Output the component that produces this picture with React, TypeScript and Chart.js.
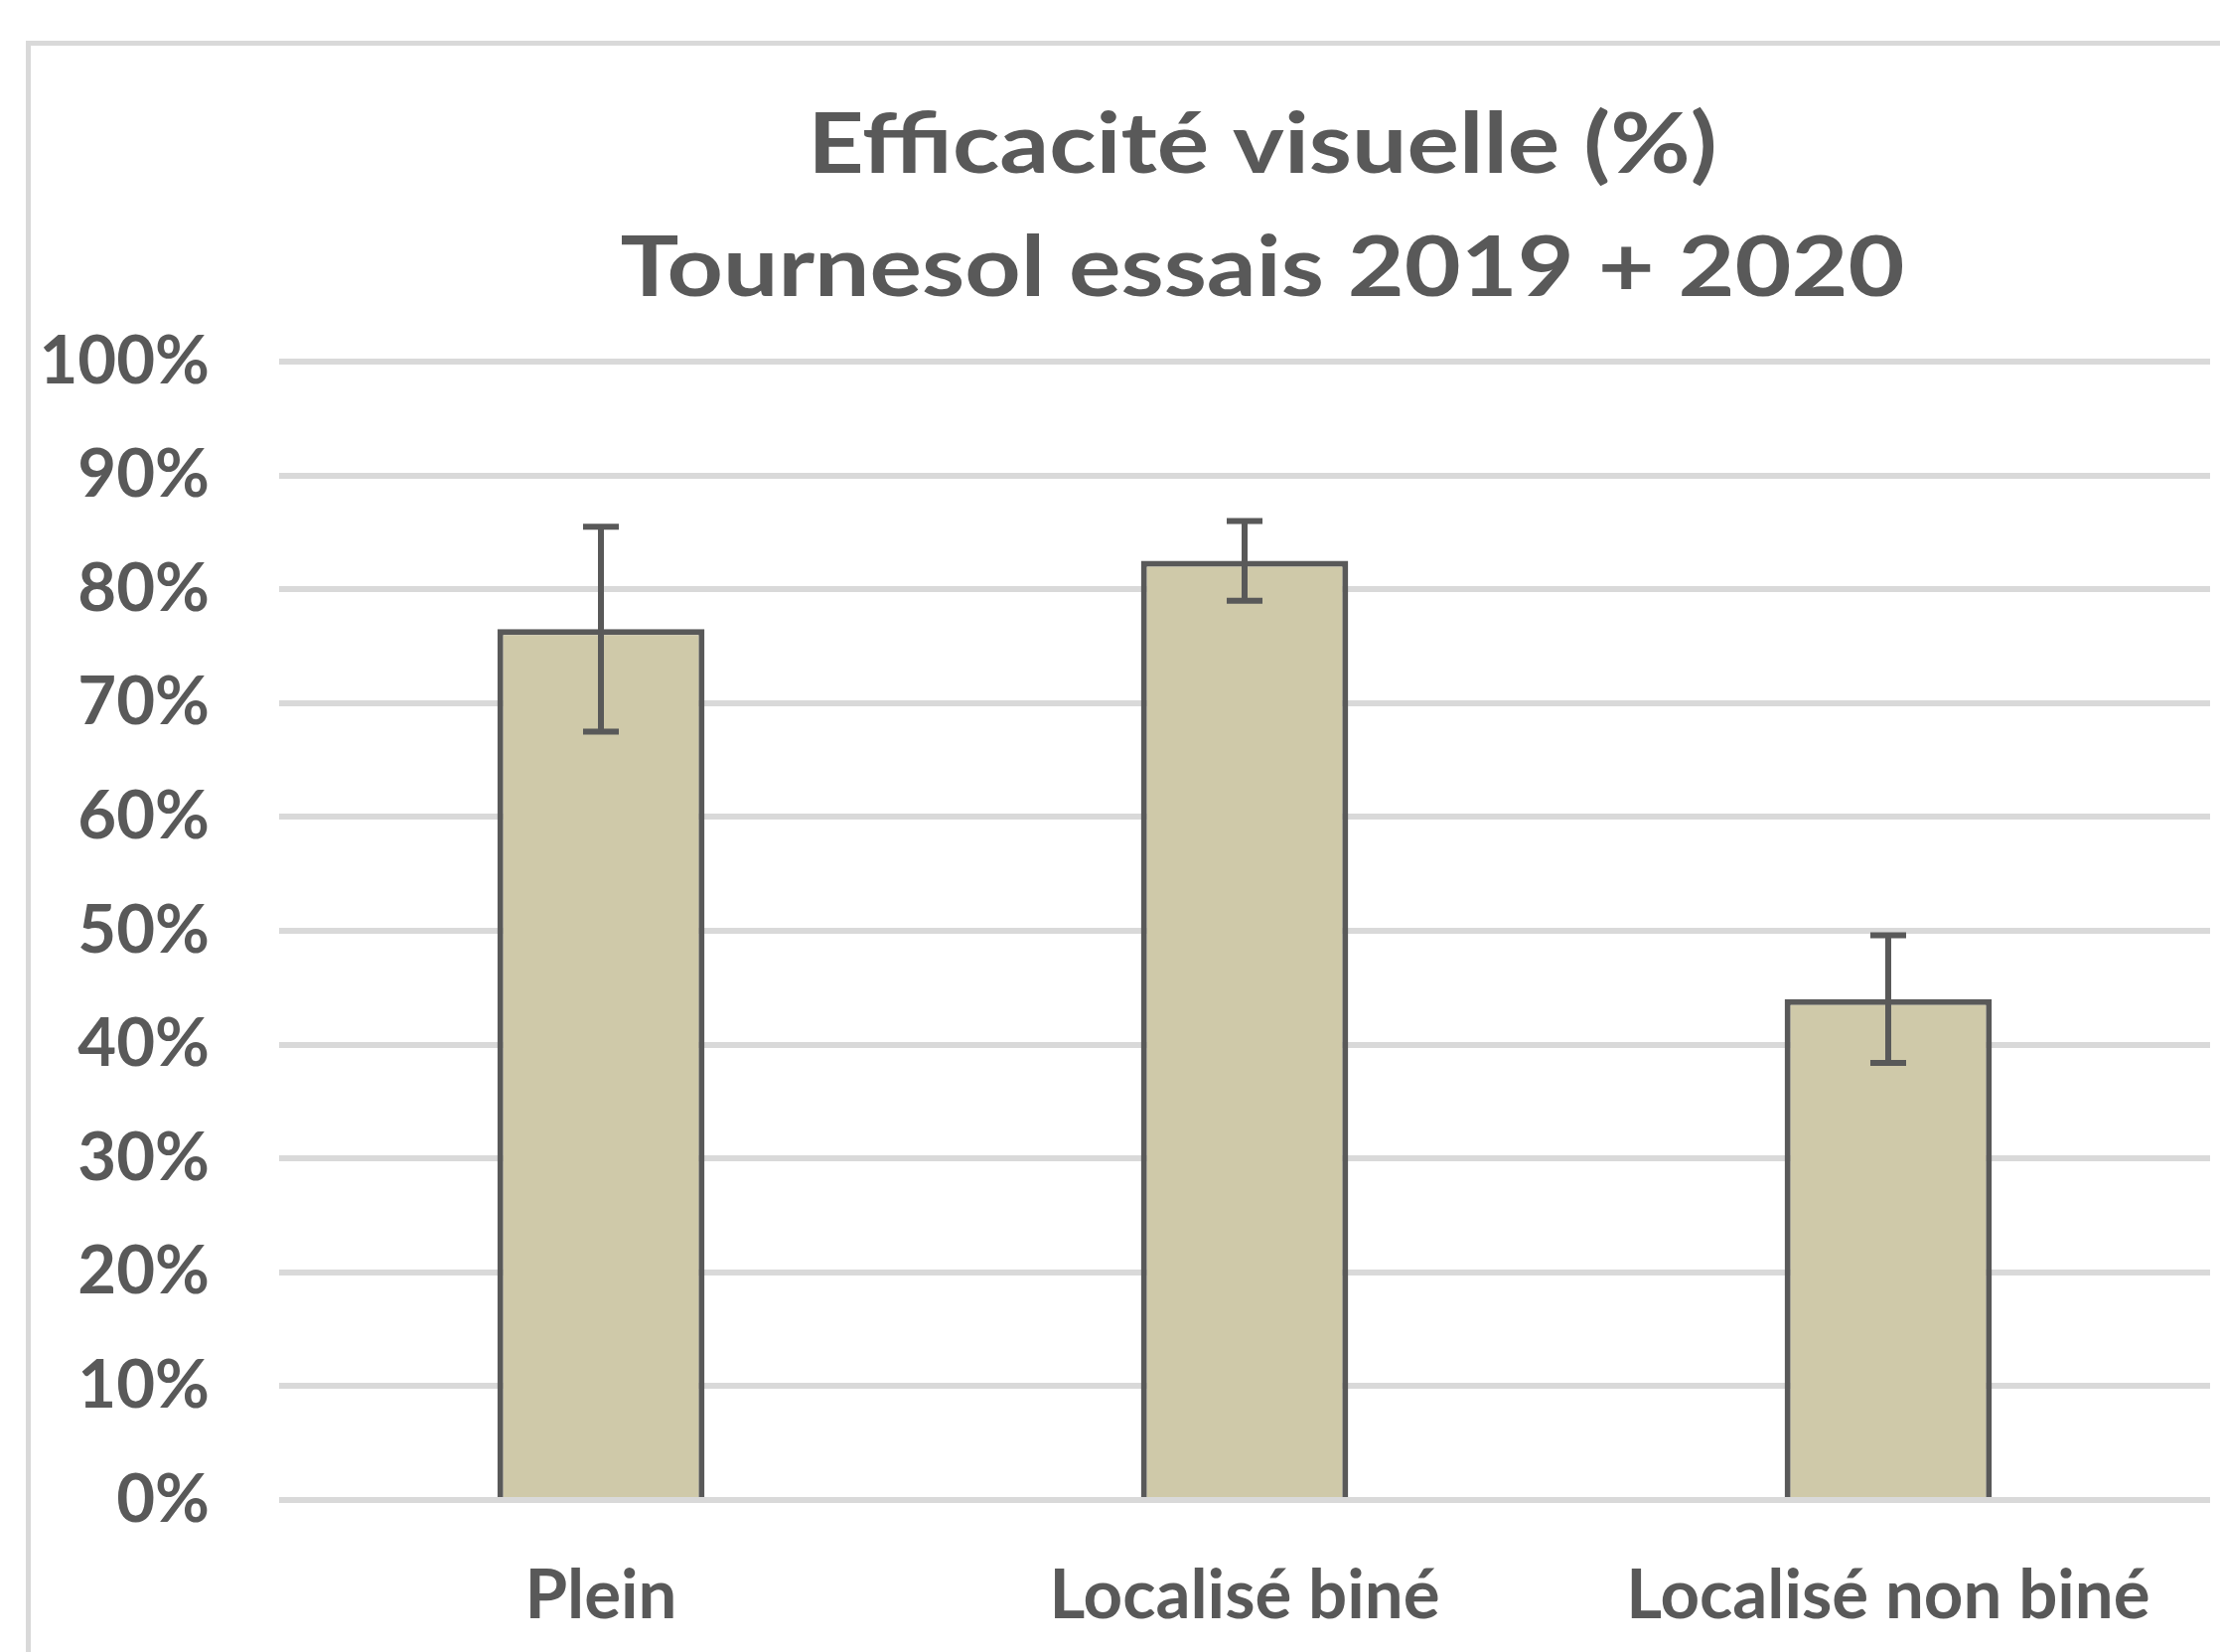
import React, { useEffect, useRef } from "react";
import { Chart, registerables } from "chart.js";

Chart.register(...registerables);

const categories = ["Plein", "Localisé biné", "Localisé non biné"];
const values = [76.5, 82.5, 44.0];
const errors = [9.0, 3.5, 5.6];
const yTicks = [0, 10, 20, 30, 40, 50, 60, 70, 80, 90, 100];
const titleLines = ["Efficacité visuelle (%)", "Tournesol essais 2019 + 2020"];

const W = 2235;
const H = 1663;
const TEXT = "#595959";
const GRID = "#d9d9d9";

const errorBarPlugin = {
  id: "errorBars",
  afterDatasetsDraw(chart: any) {
    const ctx = chart.ctx;
    const meta = chart.getDatasetMeta(0);
    const yScale = chart.scales.y;
    ctx.save();
    ctx.strokeStyle = TEXT;
    ctx.lineWidth = 6;
    ctx.lineCap = "butt";
    meta.data.forEach((bar: any, i: number) => {
      const x = bar.x;
      const yTop = yScale.getPixelForValue(values[i] + errors[i]);
      const yBot = yScale.getPixelForValue(values[i] - errors[i]);
      const cap = 18;
      ctx.beginPath();
      ctx.moveTo(x, yTop);
      ctx.lineTo(x, yBot);
      ctx.moveTo(x - cap, yTop);
      ctx.lineTo(x + cap, yTop);
      ctx.moveTo(x - cap, yBot);
      ctx.lineTo(x + cap, yBot);
      ctx.stroke();
    });
    ctx.restore();
  },
};

const framePlugin = {
  id: "frame",
  beforeDraw(chart: any) {
    const ctx = chart.ctx;
    ctx.save();
    ctx.fillStyle = "#ffffff";
    ctx.fillRect(0, 0, chart.width, chart.height);
    ctx.strokeStyle = GRID;
    ctx.lineWidth = 5;
    ctx.strokeRect(28.5, 43.5, W + 50, H + 50);
    ctx.restore();
  },
};

const titlePlugin = {
  id: "stretchedTitle",
  afterDraw(chart: any) {
    const ctx = chart.ctx;
    ctx.save();
    ctx.fillStyle = TEXT;
    ctx.font = "bold 84px Lato";
    ctx.textAlign = "center";
    ctx.textBaseline = "middle";
    const cx = 1271;
    const ys = [147, 271];
    titleLines.forEach((line, i) => {
      ctx.save();
      ctx.translate(cx, ys[i]);
      ctx.scale(1.17, 1);
      ctx.fillText(line, 0, 0);
      ctx.restore();
    });
    ctx.restore();
  },
};

export default function App() {
  const canvasRef = useRef<HTMLCanvasElement | null>(null);

  useEffect(() => {
    const canvas = canvasRef.current;
    if (!canvas) return;
    const chart = new Chart(canvas, {
      type: "bar",
      data: {
        labels: categories,
        datasets: [
          {
            data: values,
            backgroundColor: "#cfc9a9",
            borderColor: TEXT,
            borderWidth: 6,
            categoryPercentage: 1,
            barPercentage: 0.322,
          },
        ],
      },
      options: {
        responsive: false,
        animation: false,
        devicePixelRatio: 1,
        layout: { padding: { left: 0, right: 10, top: 364, bottom: 0 } },
        plugins: {
          legend: { display: false },
          tooltip: { enabled: false },
          title: { display: false },
        },
        scales: {
          x: {
            grid: { display: false, drawTicks: false },
            border: { display: false },
            ticks: {
              color: TEXT,
              font: { family: "Lato", size: 69, weight: "bold", lineHeight: 1.2 },
              padding: 55,
              maxRotation: 0,
              autoSkip: false,
            },
            afterFit(scale: any) {
              scale.height = 153;
            },
          },
          y: {
            min: 0,
            max: 100,
            afterBuildTicks(scale: any) {
              scale.ticks = yTicks.map((v) => ({ value: v }));
            },
            grid: { color: GRID, lineWidth: 6, drawTicks: false },
            border: { display: false },
            ticks: {
              color: TEXT,
              font: { family: "Lato", size: 67, weight: "bold" },
              padding: 70,
              callback: (v: any) => v + "%",
            },
            afterFit(scale: any) {
              scale.width = 281;
            },
          },
        },
      },
      plugins: [framePlugin, errorBarPlugin, titlePlugin],
    });
    return () => chart.destroy();
  }, []);

  return (
    <div style={{ position: "absolute", left: 0, top: 0, width: W, height: H, background: "#fff" }}>
      <canvas ref={canvasRef} width={W} height={H} style={{ width: W, height: H, display: "block" }} />
    </div>
  );
}
